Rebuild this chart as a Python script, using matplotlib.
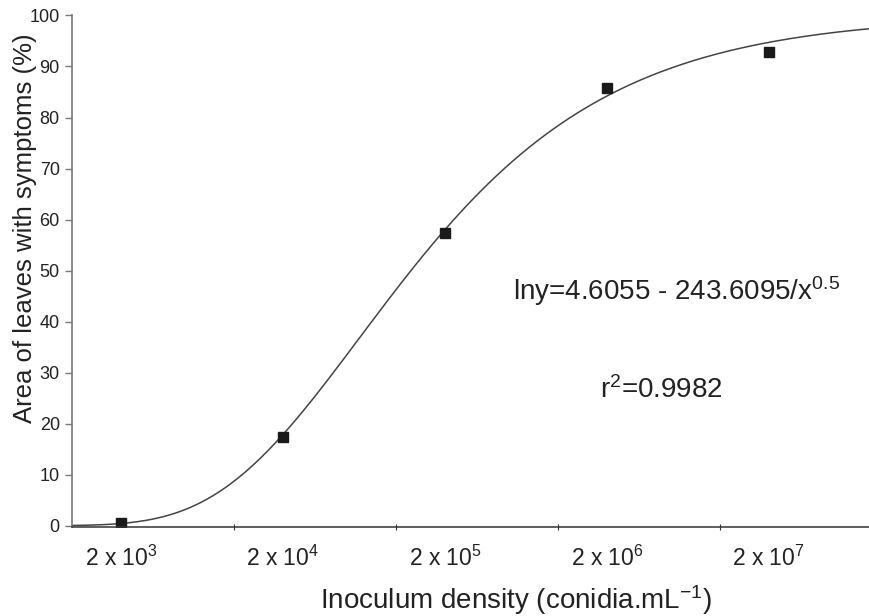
import numpy as np
import matplotlib
matplotlib.use('Agg')
from matplotlib import pyplot as plt
from matplotlib.ticker import FixedLocator, NullFormatter

plt.rcParams['font.family'] = ['Liberation Sans', 'DejaVu Sans']
plt.rcParams['mathtext.fontset'] = 'custom'
plt.rcParams['mathtext.rm'] = 'Liberation Sans'
plt.rcParams['mathtext.default'] = 'regular'

# observed points
density = [2e3, 2e4, 2e5, 2e6, 2e7]
area = [0.6, 17.3, 57.4, 85.7, 92.9]
tick_labels = ['2 x 10$^{3}$', '2 x 10$^{4}$', '2 x 10$^{5}$',
               '2 x 10$^{6}$', '2 x 10$^{7}$']

# fitted model printed on the chart: ln y = a - b / x^0.5
fit_a = 4.6055
fit_b = 243.6095

TXT = '#222222'

fig = plt.figure(figsize=(8.7, 6.16), dpi=100)
ax = fig.add_axes([0.0831, 0.1437, 0.9307, 0.8312])

xs = np.logspace(3, 8, 400)
ax.plot(xs, np.exp(fit_a - fit_b / np.sqrt(xs)), color='#444444', lw=1.1)
ax.plot(density, area, 's', color='#1a1a1a', ms=7.5)

ax.set_xscale('log')
ax.set_xlim(1e3, 1e8)
ax.set_ylim(-0.35, 100)

ax.xaxis.set_major_locator(FixedLocator(density))
ax.set_xticklabels(tick_labels, fontsize=16.5, color=TXT)
ax.xaxis.set_minor_locator(FixedLocator([1e4, 1e5, 1e6, 1e7]))
ax.xaxis.set_minor_formatter(NullFormatter())
ax.tick_params(axis='x', which='major', length=0, pad=13)
ax.tick_params(axis='x', which='minor', direction='inout', length=5,
               color='#333333', width=0.8)

ax.set_yticks(range(0, 101, 10))
ax.tick_params(axis='y', length=5, color='#777777', width=1, pad=4,
               labelsize=13, labelcolor=TXT)

for s in ['top', 'right']:
    ax.spines[s].set_visible(False)
ax.spines['left'].set_color('#777777')
ax.spines['left'].set_linewidth(1.2)
ax.spines['bottom'].set_color('#333333')
ax.spines['bottom'].set_linewidth(1.1)

fig.text(25 / 870, 1 - 228 / 616, 'Area of leaves with symptoms (%)',
         fontsize=18.5, color=TXT, rotation=90, ha='center', va='center')
fig.text(516 / 870, 1 - 600 / 616, 'Inoculum density (conidia.mL$^{-1}$)',
         fontsize=20, color=TXT, ha='center', va='center')

fig.text(513 / 870, 1 - 291 / 616, 'lny=4.6055 - 243.6095/x$^{0.5}$',
         fontsize=20, color=TXT, ha='left', va='center')
fig.text(600 / 870, 1 - 390 / 616, 'r$^{2}$=0.9982',
         fontsize=20, color=TXT, ha='left', va='center')

plt.savefig('out.png', dpi=100)
plt.close(fig)
